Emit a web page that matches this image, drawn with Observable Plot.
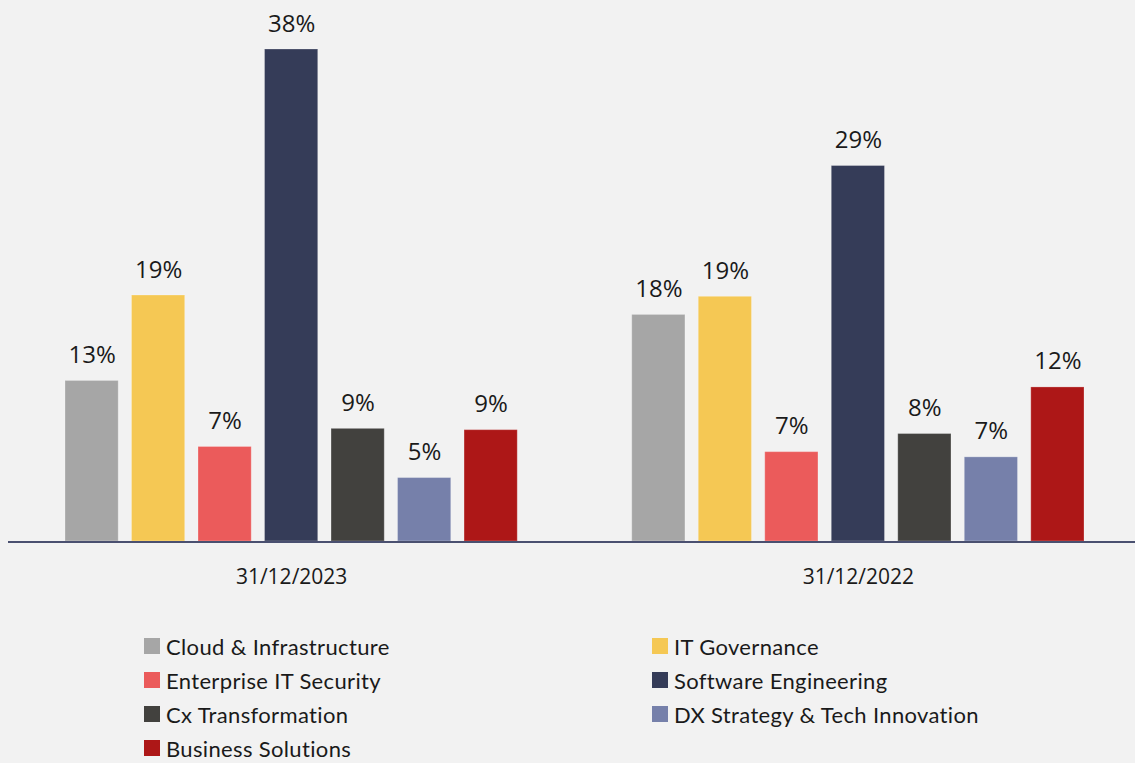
<!DOCTYPE html>
<html><head><meta charset="utf-8">
<script src="https://cdn.jsdelivr.net/npm/d3@7"></script>
<script src="https://cdn.jsdelivr.net/npm/@observablehq/plot@0.6"></script>
<style>
html,body{margin:0;padding:0;background:#f2f2f2;width:1135px;height:763px;overflow:hidden}
#chart svg{display:block}
#legend{display:grid;grid-template-columns:508px 480px;margin-left:144px;margin-top:29px;font-family:Lato,sans-serif;font-size:22px;letter-spacing:0.35px;color:#1a1a1a}
.item{display:flex;align-items:center;height:34px;white-space:nowrap}
.sw{width:16px;height:16px;margin-right:6px;flex:none}
</style></head><body><div id="chart"></div><div id="legend"></div>
<script>
const categories = ["Cloud & Infrastructure","IT Governance","Enterprise IT Security","Software Engineering","Cx Transformation","DX Strategy & Tech Innovation","Business Solutions"];
const periods = ["31/12/2023","31/12/2022"];
const values2023 = [12.4, 19.0, 7.3, 38.0, 8.7, 4.9, 8.6];
const values2022 = [17.5, 18.9, 6.9, 29.0, 8.3, 6.5, 11.9];
const labels2023 = ["13%","19%","7%","38%","9%","5%","9%"];
const labels2022 = ["18%","19%","7%","29%","8%","7%","12%"];
const colors = ["#a6a6a6","#f5c854","#eb5b5b","#353c58","#42413e","#7680aa","#ad1717"];

const valueSets = [values2023, values2022];
const labelSets = [labels2023, labels2022];
const data = periods.flatMap((p, i) => categories.map((c, j) => ({period: p, category: c, value: valueSets[i][j], label: labelSets[i][j]})));

const plot = Plot.plot({
  width: 1135, height: 600,
  marginLeft: 65, marginRight: 51, marginTop: 49, marginBottom: 59,
  style: {background: "transparent", fontFamily: "'Open Sans', sans-serif", color: "#1a1a1a", overflow: "hidden"},
  fx: {domain: periods, paddingInner: 0.202, paddingOuter: 0, round: false, label: null},
  x: {domain: categories, paddingInner: 0.2, paddingOuter: 0, round: false, axis: null},
  y: {domain: [0, 38], axis: null},
  color: {domain: categories, range: colors},
  marks: [
    Plot.barY(data, {fx: "period", x: "category", y: "value", fill: "category", stroke: "white", strokeOpacity: 0.25, strokeWidth: 1}),
    Plot.ruleY([0], {stroke: "#4a5070", strokeWidth: 2, insetLeft: -57.24, insetRight: -60, shapeRendering: "crispEdges"}),
    Plot.text(data, {fx: "period", x: "category", y: "value", text: "label", lineAnchor: "bottom", dy: -18, fontSize: 24, fill: "#1a1a1a"}),
    Plot.axisFx({anchor: "bottom", tickSize: 0, tickPadding: 28, fontSize: 21, label: null, fill: "#1a1a1a"})
  ]
});
document.getElementById("chart").appendChild(plot);

const legend = document.getElementById("legend");
categories.forEach((c, i) => {
  const item = document.createElement("div");
  item.className = "item";
  const sw = document.createElement("span");
  sw.className = "sw";
  sw.style.background = colors[i];
  const t = document.createElement("span");
  t.textContent = c;
  item.appendChild(sw); item.appendChild(t);
  legend.appendChild(item);
});
</script>
</body></html>
